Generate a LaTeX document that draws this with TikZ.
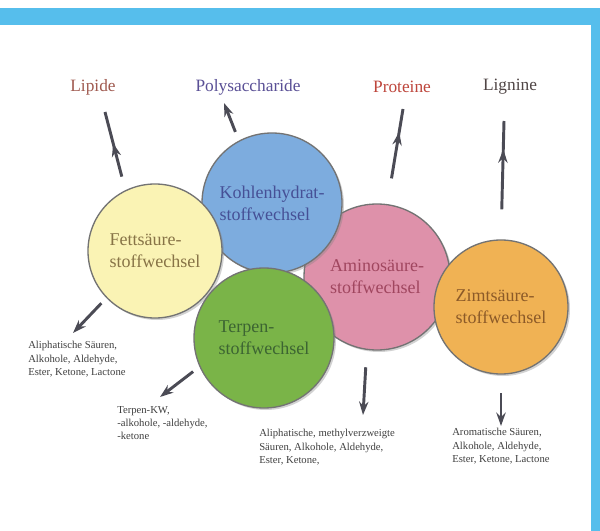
\documentclass[tikz,border=0pt]{standalone}
\usepackage{fontspec}
\setmainfont{Liberation Serif}
\usetikzlibrary{arrows.meta,decorations.markings,shadows}

\definecolor{balken}{RGB}{86,190,236}
\definecolor{fettfarbe}{RGB}{250,243,180}
\definecolor{kohlefarbe}{RGB}{125,172,222}
\definecolor{terpenfarbe}{RGB}{122,180,72}
\definecolor{aminofarbe}{RGB}{222,145,170}
\definecolor{zimtfarbe}{RGB}{240,178,84}
\definecolor{fetttext}{RGB}{135,115,70}
\definecolor{kohletext}{RGB}{70,80,150}
\definecolor{terpentext}{RGB}{60,100,50}
\definecolor{aminotext}{RGB}{160,70,95}
\definecolor{zimttext}{RGB}{140,90,40}
\definecolor{pfeilgrau}{RGB}{75,75,85}

\tikzset{
  kreis/.style={circle, draw=black!55, line width=1pt, inner sep=0pt, minimum size=#1,
    align=left, font=\fontsize{13.5}{16.5}\selectfont,
    drop shadow={shadow xshift=1.5pt, shadow yshift=-1.5pt, opacity=0.35}},
  oben/.style={font=\fontsize{13}{16}\selectfont, inner sep=1pt},
  produkt/.style={anchor=north west, inner sep=0pt, align=left, text=black!75,
    font=\fontsize{8}{10}\selectfont},
  pfeil/.style={draw=pfeilgrau, line width=2.2pt, -{Stealth[length=10pt,width=7pt]}},
  mittelpfeil/.style={draw=pfeilgrau, line width=2.2pt, postaction={decorate},
    decoration={markings, mark=at position #1 with {\arrow{Stealth[length=10pt,width=7pt]}}}},
}

\begin{document}
\begin{tikzpicture}[x=0.75pt,y=-0.75pt]
  \useasboundingbox[fill=white] (0,0) rectangle (600,531);
  % blue frame
  \fill[balken] (0,8) rectangle (600,25);
  \fill[balken] (591,25) rectangle (600,531);

  % the five pathways, back to front
  \foreach \name/\x/\y/\d/\fuell/\schrift/\inhalt in {
      amino/377/277/109.5pt/aminofarbe/aminotext/{Aminosäure-\\stoffwechsel},
      kohle/272/203/105pt/kohlefarbe/kohletext/{Kohlenhydrat-\\stoffwechsel},
      fett/155/251/100.5pt/fettfarbe/fetttext/{Fettsäure-\\stoffwechsel},
      terpen/264/338/105pt/terpenfarbe/terpentext/{Terpen-\\stoffwechsel},
      zimt/501/307/100.5pt/zimtfarbe/zimttext/{Zimtsäure-\\stoffwechsel}}
  {
    \node[kreis=\d, fill=\fuell, text=\schrift] (\name) at (\x,\y) {\inhalt};
  }

  % polymers on top
  \node[oben, text={rgb,255:red,160;green,90;blue,80}] (lipide) at (93,87) {Lipide};
  \node[oben, text={rgb,255:red,90;green,80;blue,150}] (poly) at (248,87) {Polysaccharide};
  \node[oben, text={rgb,255:red,190;green,70;blue,60}] (proteine) at (402,87) {Proteine};
  \node[oben, text={rgb,255:red,80;green,70;blue,70}] (lignine) at (510,87) {Lignine};

  % aroma compounds below
  \node[produkt] (fettprod) at (28,341) {Aliphatische Säuren,\\Alkohole, Aldehyde,\\Ester, Ketone, Lactone};
  \node[produkt] (terpenprod) at (117,406) {Terpen-KW,\\-alkohole, -aldehyde,\\-ketone};
  \node[produkt] (aminoprod) at (259,429) {Aliphatische, methylverzweigte\\Säuren, Alkohole, Aldehyde,\\Ester, Ketone,};
  \node[produkt] (zimtprod) at (452,428) {Aromatische Säuren,\\Alkohole, Aldehyde,\\Ester, Ketone, Lactone};

  % arrow tips
  \coordinate (zulipide) at (105,112);
  \coordinate (zupoly) at (224,103);
  \coordinate (zuproteine) at (403,109);
  \coordinate (zulignine) at (504,121);
  \coordinate (zufettprod) at (73,333);
  \coordinate (zuterpenprod) at (160,397);
  \coordinate (zuaminoprod) at (363,415);
  \coordinate (zuzimtprod) at (501,426);

  \draw[mittelpfeil=0.6, shorten <=10.5pt] (fett.116) -- (zulipide);
  \draw[pfeil, shorten <=7pt] (kohle.118) -- (zupoly);
  \draw[mittelpfeil=0.76, shorten <=19.5pt] (amino.82) -- (zuproteine);
  \draw[mittelpfeil=0.76, shorten <=22.5pt] (zimt.90) -- (zulignine);
  \draw[pfeil, shorten <=5.4pt] (fett.224) -- (zufettprod);
  \draw[pfeil, shorten <=6pt] (terpen.204) -- (zuterpenprod);
  \draw[pfeil, shorten <=13pt] (amino.262) -- (zuaminoprod);
  \draw[pfeil, shorten <=14pt] (zimt.270) -- (zuzimtprod);
\end{tikzpicture}
\end{document}
